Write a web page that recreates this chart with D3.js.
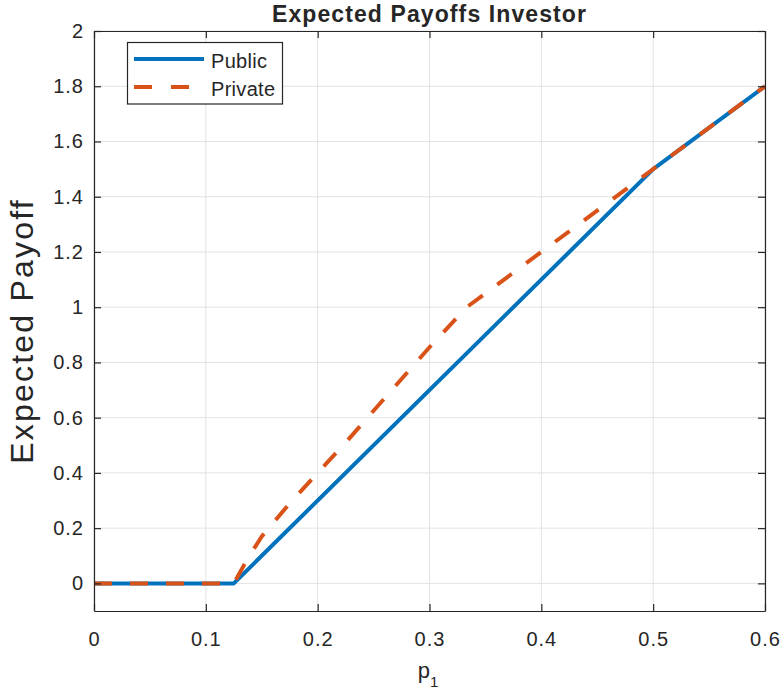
<!DOCTYPE html>
<html>
<head>
<meta charset="utf-8">
<script src="https://cdn.jsdelivr.net/npm/d3@7"></script>
<style>
  html, body { margin: 0; padding: 0; background: #fff; }
  text { font-family: "Liberation Sans", Arial, Helvetica, sans-serif; fill: #262626; }
</style>
</head>
<body>
<div id="chart"></div>
<script>
const xTicks = [0, 0.1, 0.2, 0.3, 0.4, 0.5, 0.6];
const yTicks = [0, 0.2, 0.4, 0.6, 0.8, 1, 1.2, 1.4, 1.6, 1.8, 2];
const xTickLabels = ['0', '0.1', '0.2', '0.3', '0.4', '0.5', '0.6'];
const yTickLabels = ['0', '0.2', '0.4', '0.6', '0.8', '1', '1.2', '1.4', '1.6', '1.8', '2'];

const publicP = [0, 0.125, 0.5, 0.6];
const publicV = [0, 0, 1.5, 1.8];
const privateP = [0, 0.125, 0.1375, 0.15, 0.175, 0.2, 0.225, 0.25, 0.275, 0.3, 0.3333, 0.4, 0.5, 0.6];
const privateV = [0, 0, 0.09, 0.17, 0.29, 0.4, 0.51, 0.625, 0.74, 0.855, 1.0, 1.2, 1.5, 1.8];

const seriesNames = ['Public', 'Private'];

const width = 783, height = 695;
const box = { left: 94, right: 765, top: 31, bottom: 611 };

const svg = d3.select('#chart').append('svg').attr('width', width).attr('height', height);

const x = d3.scaleLinear([0, 0.6], [box.left, box.right]);
const y = d3.scaleLinear([-0.1, 2], [box.bottom, box.top]);

// grid
const grid = svg.append('g').attr('stroke', '#e3e3e3').attr('stroke-width', 1);
grid.selectAll('.gx').data(xTicks).join('line')
  .attr('x1', (d) => x(d)).attr('x2', (d) => x(d)).attr('y1', box.top).attr('y2', box.bottom);
grid.selectAll('.gy').data(yTicks).join('line')
  .attr('y1', (d) => y(d)).attr('y2', (d) => y(d)).attr('x1', box.left).attr('x2', box.right);

// lines
const line = d3.line().x((d) => x(d[0])).y((d) => y(d[1]));
const pubData = publicP.map((p, i) => [p, publicV[i]]);
const privData = privateP.map((p, i) => [p, privateV[i]]);
svg.append('path').datum(pubData).attr('d', line).attr('fill', 'none')
  .attr('stroke', '#0072BD').attr('stroke-width', 4).attr('stroke-linejoin', 'round');
svg.append('path').datum(privData).attr('d', line).attr('fill', 'none')
  .attr('stroke', '#D95319').attr('stroke-width', 4).attr('stroke-dasharray', '18,18');

// axes (ticks inside, box all round)
const tick = 7;
const fmtX = (d) => xTickLabels[xTicks.indexOf(d)];
const fmtY = (d) => yTickLabels[yTicks.indexOf(d)];
const axes = [
  svg.append('g').attr('transform', `translate(0,${box.bottom})`)
    .call(d3.axisBottom(x).tickValues(xTicks).tickFormat(fmtX).tickSizeInner(-tick).tickSizeOuter(0).tickPadding(21)),
  svg.append('g').attr('transform', `translate(${box.left},0)`)
    .call(d3.axisLeft(y).tickValues(yTicks).tickFormat(fmtY).tickSizeInner(-tick).tickSizeOuter(0).tickPadding(10)),
  svg.append('g').attr('transform', `translate(0,${box.top})`)
    .call(d3.axisTop(x).tickValues(xTicks).tickFormat('').tickSizeInner(-tick).tickSizeOuter(0)),
  svg.append('g').attr('transform', `translate(${box.right},0)`)
    .call(d3.axisRight(y).tickValues(yTicks).tickFormat('').tickSizeInner(-tick).tickSizeOuter(0)),
];
axes.forEach((a) => {
  a.select('.domain').attr('stroke', '#262626').attr('stroke-width', 1.2);
  a.selectAll('.tick line').attr('stroke', '#262626').attr('stroke-width', 1.2);
  a.selectAll('.tick text').attr('font-size', 20).attr('letter-spacing', 1).attr('fill', '#262626')
    .style('font-family', '"Liberation Sans", Arial, sans-serif');
});

// title
svg.append('text').attr('x', (box.left + box.right) / 2).attr('y', 21.5)
  .attr('text-anchor', 'middle').attr('font-size', 23).attr('font-weight', 'bold')
  .attr('letter-spacing', 1.1).attr('fill', '#000').text('Expected Payoffs Investor');

// axis labels
const xl = svg.append('text').attr('x', 428).attr('y', 678).attr('text-anchor', 'middle')
  .attr('font-size', 22);
xl.append('tspan').text('p');
xl.append('tspan').attr('font-size', 15).attr('dy', 9).text('1');

svg.append('text').attr('transform', 'translate(33,331) rotate(-90)')
  .attr('text-anchor', 'middle').attr('font-size', 32).attr('letter-spacing', 2.2)
  .text('Expected Payoff');

// legend
const lg = svg.append('g');
lg.append('rect').attr('x', 127.5).attr('y', 42.5).attr('width', 155).attr('height', 61.5)
  .attr('fill', '#fff').attr('stroke', '#262626').attr('stroke-width', 1.2);
const legendY = [59, 87];
const legendStyle = [{ c: '#0072BD', dash: null }, { c: '#D95319', dash: '18,19' }];
seriesNames.forEach((name, i) => {
  lg.append('line').attr('x1', 134).attr('x2', 204).attr('y1', legendY[i]).attr('y2', legendY[i])
    .attr('stroke', legendStyle[i].c).attr('stroke-width', 4)
    .attr('stroke-dasharray', legendStyle[i].dash);
  lg.append('text').attr('x', 211).attr('y', legendY[i] + 8.5).attr('font-size', 20)
    .attr('letter-spacing', 0.3).attr('fill', '#000').text(name);
});
</script>
</body>
</html>
